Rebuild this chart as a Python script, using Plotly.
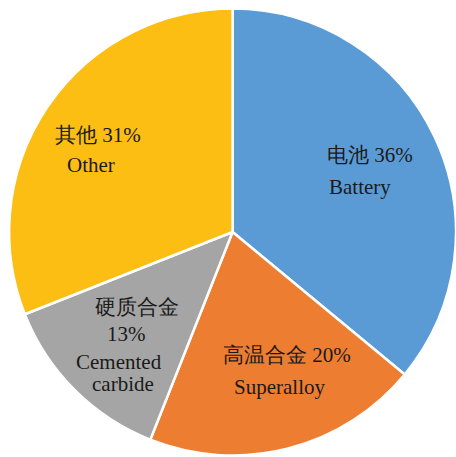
import plotly.graph_objects as go

# Share of end uses
labels_cn = ["电池", "高温合金", "硬质合金", "其他"]
labels_en = ["Battery", "Superalloy", "Cemented carbide", "Other"]
values = [36, 20, 13, 31]
colors = ["#5B9BD5", "#ED7D31", "#A5A5A5", "#FDBE14"]

W, H = 456, 457
FONT = "Liberation Serif"

fig = go.Figure()

# empty cartesian layer underneath the pie (axes hidden)
fig.add_trace(go.Scatter(x=[], y=[], showlegend=False, hoverinfo="skip"))

fig.add_trace(
    go.Pie(
        labels=labels_en,
        values=values,
        sort=False,
        direction="clockwise",
        rotation=0,
        marker=dict(colors=colors, line=dict(color="white", width=2.5)),
        textinfo="none",
        hoverinfo="label+percent",
        showlegend=False,
        domain=dict(x=[0.02, 1.0], y=[0.0022, 0.9825]),
    )
)

# Label lines per slice: (text, x_px, y_px)
def pct(v):
    return f"{v}%"

label_lines = [
    [(f"{labels_cn[0]} {pct(values[0])}", 370, 155), (labels_en[0], 360, 187)],
    [(f"{labels_cn[1]} {pct(values[1])}", 287, 355), (labels_en[1], 279, 387)],
    [(labels_cn[2], 137, 307), (pct(values[2]), 126, 334),
     ("Cemented", 119, 362), ("carbide", 123, 384)],
    [(f"{labels_cn[3]} {pct(values[3])}", 98, 135), (labels_en[3], 91, 165)],
]

for lines in label_lines:
    for text, x, y in lines:
        fig.add_annotation(
            text=text,
            x=x / W,
            y=1 - y / H,
            xref="paper",
            yref="paper",
            xanchor="center",
            yanchor="middle",
            showarrow=False,
            font=dict(family=FONT, size=21, color="#1a1a1a"),
        )

fig.update_layout(
    template="none",
    width=W,
    height=H,
    margin=dict(l=0, r=0, t=0, b=0),
    paper_bgcolor="white",
    plot_bgcolor="white",
    font=dict(family=FONT),
    xaxis=dict(visible=False),
    yaxis=dict(visible=False),
)

fig.write_html("out.html")
